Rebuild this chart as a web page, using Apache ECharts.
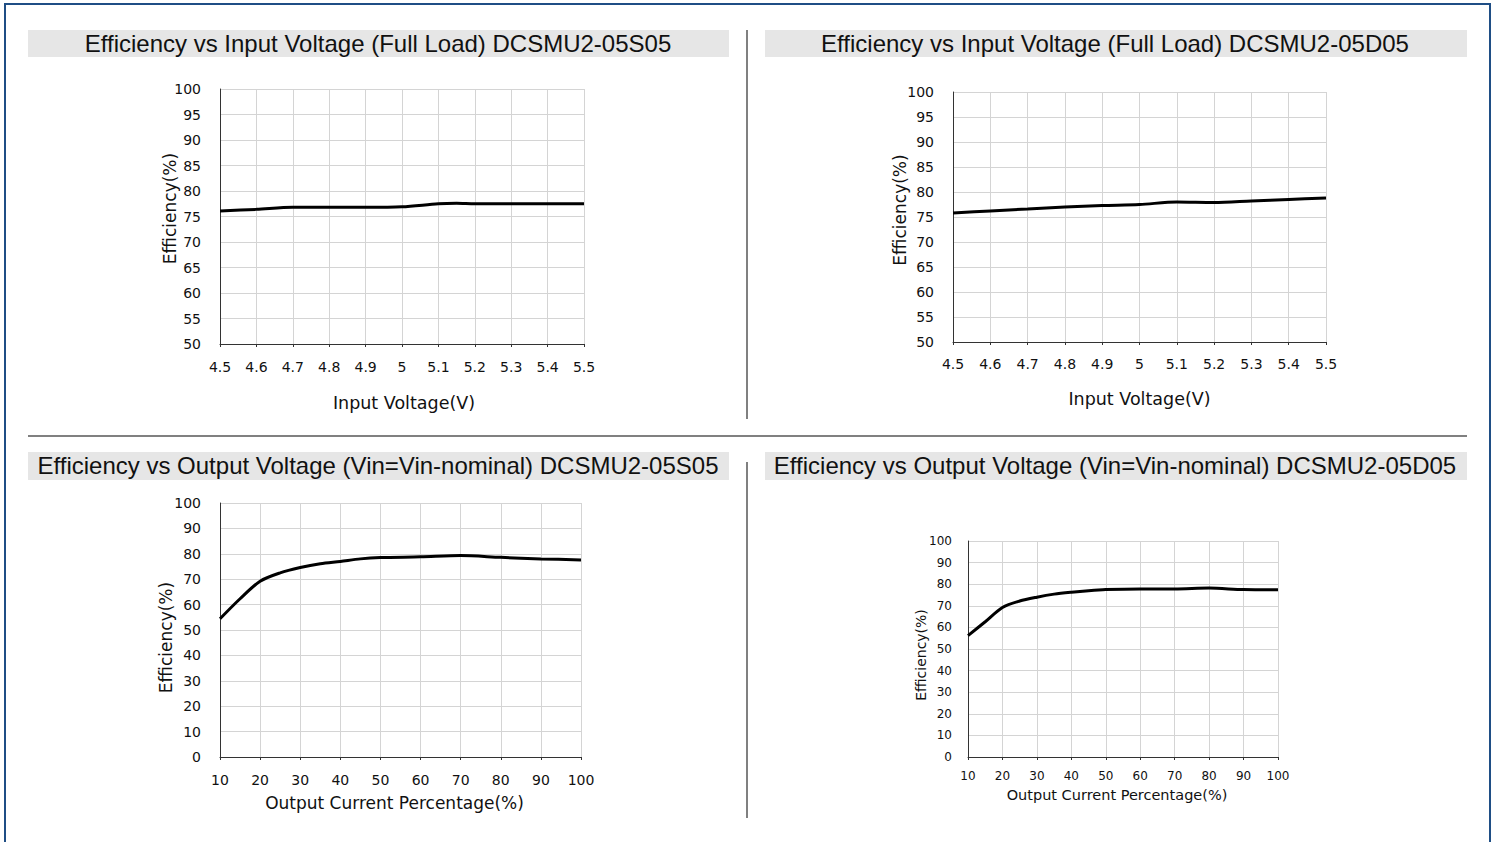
<!DOCTYPE html>
<html><head><meta charset="utf-8">
<script src="https://cdn.jsdelivr.net/npm/echarts@6/dist/echarts.min.js"></script>
<style>html,body{margin:0;padding:0;background:#fff}#c{width:1497px;height:842px}</style>
</head><body><div id="c"></div>
<script>
// ---- data ----
const titles = [
  'Efficiency vs Input Voltage (Full Load) DCSMU2-05S05',
  'Efficiency vs Input Voltage (Full Load) DCSMU2-05D05',
  'Efficiency vs Output Voltage (Vin=Vin-nominal) DCSMU2-05S05',
  'Efficiency vs Output Voltage (Vin=Vin-nominal) DCSMU2-05D05'
];
const vinS05 = [4.5, 4.6, 4.7, 4.8, 4.9, 5.0, 5.1, 5.15, 5.2, 5.3, 5.4, 5.5];
const effVinS05 = [76.1, 76.4, 76.8, 76.8, 76.8, 76.9, 77.5, 77.6, 77.5, 77.5, 77.5, 77.5];
const vinD05 = [4.5, 4.6, 4.7, 4.8, 4.9, 5.0, 5.1, 5.2, 5.3, 5.4, 5.5];
const effVinD05 = [75.8, 76.2, 76.6, 77.0, 77.3, 77.5, 78.0, 77.9, 78.2, 78.5, 78.8];
const loadPct = [10, 15, 20, 25, 30, 35, 40, 45, 50, 60, 70, 80, 90, 100];
const effLoadS05 = [54.4, 62.3, 69.2, 72.5, 74.6, 76.1, 77.0, 78.0, 78.5, 78.8, 79.3, 78.6, 78.0, 77.6];
const effLoadD05 = [56.2, 62.6, 69.2, 72.2, 74.0, 75.4, 76.3, 77.0, 77.5, 77.8, 77.8, 78.2, 77.5, 77.4];
const xNames = ['Input Voltage(V)', 'Input Voltage(V)', 'Output Current Percentage(%)', 'Output Current Percentage(%)'];
const yName = 'Efficiency(%)';

const pair = (xs, ys) => xs.map((x, i) => [x, ys[i]]);

const tickFont = 'DejaVu Sans';
const grids = [
  {left: 220, top: 89, width: 364, height: 255},
  {left: 953, top: 92, width: 373, height: 250},
  {left: 220, top: 503, width: 361, height: 254},
  {left: 968, top: 541, width: 310, height: 216}
];
const fmt1 = v => String(Math.round(v * 10) / 10);
const xCfg = [
  {min: 4.5, max: 5.5, interval: 0.1, fs: 14, nfs: 17.5, margin: 16, gap: 50, pad: [0, 0, 0, 4]},
  {min: 4.5, max: 5.5, interval: 0.1, fs: 14, nfs: 17.5, margin: 15, gap: 48, pad: [0, 0, 0, 0]},
  {min: 10, max: 100, interval: 10, fs: 14, nfs: 17, margin: 16, gap: 37, pad: [0, 12, 0, 0]},
  {min: 10, max: 100, interval: 10, fs: 12, nfs: 14.5, margin: 13, gap: 30, pad: [0, 12, 0, 0]}
];
const yCfg = [
  {min: 50, max: 100, interval: 5, fs: 14, nfs: 17, margin: 19, gap: 42, pad: [0, 0, 0, 16]},
  {min: 50, max: 100, interval: 5, fs: 14, nfs: 17, margin: 19, gap: 45, pad: [0, 0, 0, 14]},
  {min: 0, max: 100, interval: 10, fs: 14, nfs: 17, margin: 19, gap: 46, pad: [0, 15, 0, 0]},
  {min: 0, max: 100, interval: 10, fs: 12, nfs: 14, margin: 16, gap: 40, pad: [0, 12, 0, 0]}
];

const xAxis = xCfg.map((c, i) => ({
  type: 'value', gridIndex: i, min: c.min, max: c.max, interval: c.interval,
  name: xNames[i], nameLocation: 'middle', nameGap: c.gap, nameMoveOverlap: false,
  nameTextStyle: {fontFamily: tickFont, fontSize: c.nfs, color: '#111', padding: c.pad},
  axisLine: {show: true, lineStyle: {color: '#333', width: 1}},
  axisTick: {show: true, length: 3, lineStyle: {color: '#333'}},
  axisLabel: {fontFamily: tickFont, fontSize: c.fs, color: '#111', margin: c.margin, formatter: fmt1},
  splitLine: {show: true, lineStyle: {color: '#d4d4d4', width: 1}}
}));
const yAxis = yCfg.map((c, i) => ({
  type: 'value', gridIndex: i, min: c.min, max: c.max, interval: c.interval,
  name: yName, nameLocation: 'middle', nameGap: c.gap, nameRotate: 90, nameMoveOverlap: false,
  nameTextStyle: {fontFamily: tickFont, fontSize: c.nfs, color: '#111', padding: c.pad},
  axisLine: {show: true, lineStyle: {color: '#333', width: 1}},
  axisTick: {show: false},
  axisLabel: {fontFamily: tickFont, fontSize: c.fs, color: '#111', margin: c.margin},
  splitLine: {show: true, lineStyle: {color: '#d4d4d4', width: 1}}
}));

const seriesData = [pair(vinS05, effVinS05), pair(vinD05, effVinD05), pair(loadPct, effLoadS05), pair(loadPct, effLoadD05)];
const series = seriesData.map((d, i) => ({
  type: 'line', xAxisIndex: i, yAxisIndex: i, data: d, smooth: 0.3,
  symbol: 'none', lineStyle: {color: '#000', width: 3}, silent: true
}));

const bars = [
  {x: 28, y: 30, w: 701, h: 27, cx: 378},
  {x: 765, y: 30, w: 702, h: 27, cx: 1115},
  {x: 28, y: 452, w: 701, h: 28, cx: 378},
  {x: 765, y: 452, w: 702, h: 28, cx: 1115}
];
const graphic = [];
graphic.push({type: 'rect', shape: {x: 5, y: 4, width: 1485, height: 860}, style: {fill: 'none', stroke: '#1f4e85', lineWidth: 2}, silent: true});
bars.forEach((b, i) => {
  graphic.push({type: 'rect', shape: {x: b.x, y: b.y, width: b.w, height: b.h}, style: {fill: '#e6e6e6'}, silent: true});
  graphic.push({type: 'text', x: b.cx, y: b.y + b.h / 2 - 0.5, style: {text: titles[i], font: '24px "Liberation Sans", Arial, sans-serif', fill: '#111', textAlign: 'center', textVerticalAlign: 'middle'}, silent: true});
});
graphic.push({type: 'line', shape: {x1: 747, y1: 30, x2: 747, y2: 419}, style: {stroke: '#808080', lineWidth: 2}, silent: true});
graphic.push({type: 'line', shape: {x1: 747, y1: 462, x2: 747, y2: 818}, style: {stroke: '#808080', lineWidth: 2}, silent: true});
graphic.push({type: 'line', shape: {x1: 28, y1: 436, x2: 1467, y2: 436}, style: {stroke: '#808080', lineWidth: 2}, silent: true});

const chart = echarts.init(document.getElementById('c'), null, {renderer: 'svg'});
chart.setOption({
  animation: false,
  backgroundColor: '#fff',
  grid: grids.map(g => Object.assign({containLabel: false}, g)),
  xAxis, yAxis, series, graphic
});
</script></body></html>
